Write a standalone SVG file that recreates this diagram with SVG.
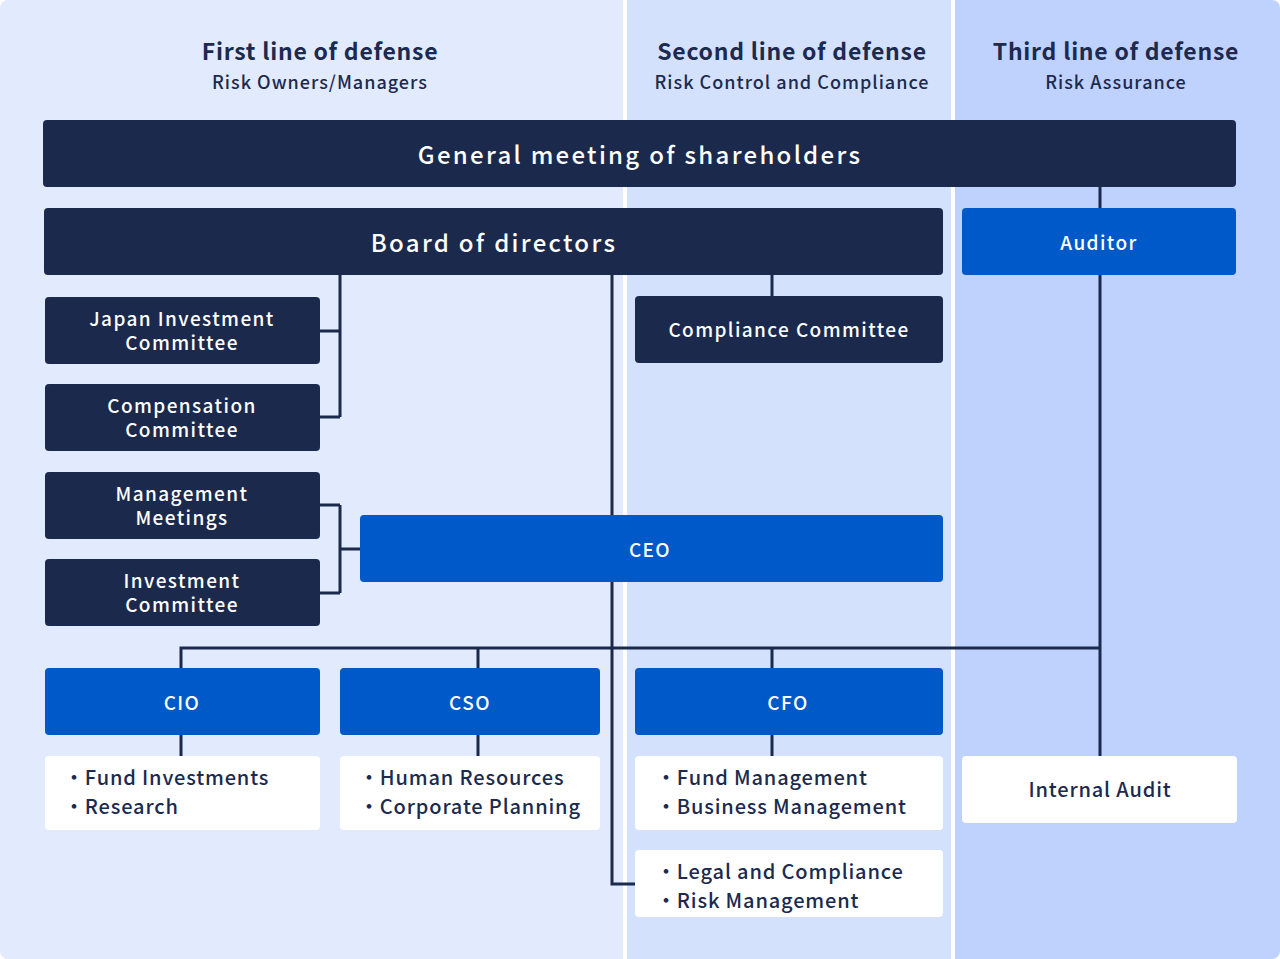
<svg xmlns="http://www.w3.org/2000/svg" width="1280" height="959" viewBox="0 0 1280 959">
<style>
text{font-family:"Noto Sans CJK JP","Noto Sans",sans-serif;}
.h1{font-size:23px;font-weight:700;fill:#1b2a4e;text-anchor:middle;letter-spacing:0.75px}
.h2{font-size:18px;font-weight:500;fill:#1b2a4e;text-anchor:middle;letter-spacing:1px}
.navy{fill:#1b2a4c}
.blue{fill:#0059c8}
.white{fill:#ffffff}
.lbl{font-size:19px;font-weight:500;fill:#ffffff;text-anchor:middle;letter-spacing:1.4px}
.big{font-size:24px;font-weight:500;fill:#ffffff;text-anchor:middle;letter-spacing:2.3px}
.item{font-size:20px;font-weight:500;fill:#1b2a4e;letter-spacing:0.85px}
.ln{stroke:#1b2a4c;stroke-width:3;fill:none}
</style>
<rect width="1280" height="959" fill="#ffffff"/>
<g id="columns">
<rect x="0" y="0" width="631" height="959" rx="8" fill="#e2eafd"/>
<rect x="627" y="0" width="324" height="959" fill="#d3e1fc"/>
<path d="M955 0H1272A8 8 0 0 1 1280 8V951A8 8 0 0 1 1272 959H955Z" fill="#bfd1fd"/>
<rect x="623" y="0" width="4" height="959" fill="#ffffff"/>
</g>
<g id="headers">
<text class="h1" x="320" y="60">First line of defense</text>
<text class="h2" x="320" y="89">Risk Owners/Managers</text>
<text class="h1" x="792" y="60">Second line of defense</text>
<text class="h2" x="792" y="89">Risk Control and Compliance</text>
<text class="h1" x="1116" y="60">Third line of defense</text>
<text class="h2" x="1116" y="89">Risk Assurance</text>
</g>
<g id="connectors">
<path class="ln" d="M340 275V417M320 331H340M320 417H340"/>
<path class="ln" d="M772 275V296"/>
<path class="ln" d="M612 275V515M612 582V884H635"/>
<path class="ln" d="M340 505V593M320 505H340M320 593H340M340 549H360"/>
<path class="ln" d="M181 668V648H1100M478 648V668M772 648V668"/>
<path class="ln" d="M1100 187V208M1100 275V756"/>
<path class="ln" d="M181 735V756M478 735V756M772 735V756"/>
</g>
<g id="general-meeting"><rect class="navy" x="43" y="120" width="1193" height="67" rx="4"/><text class="big" x="640" y="164">General meeting of shareholders</text></g>
<g id="board"><rect class="navy" x="44" y="208" width="899" height="67" rx="4"/><text class="big" x="494" y="252">Board of directors</text></g>
<g id="auditor"><rect class="blue" x="962" y="208" width="274" height="67" rx="4"/><text class="lbl" x="1099" y="250">Auditor</text></g>
<g id="japan-investment"><rect class="navy" x="45" y="297" width="275" height="67" rx="4"/><text class="lbl" x="182" y="326">Japan Investment</text><text class="lbl" x="182" y="350">Committee</text></g>
<g id="compensation"><rect class="navy" x="45" y="384" width="275" height="67" rx="4"/><text class="lbl" x="182" y="413">Compensation</text><text class="lbl" x="182" y="437">Committee</text></g>
<g id="management"><rect class="navy" x="45" y="472" width="275" height="67" rx="4"/><text class="lbl" x="182" y="501">Management</text><text class="lbl" x="182" y="525">Meetings</text></g>
<g id="investment"><rect class="navy" x="45" y="559" width="275" height="67" rx="4"/><text class="lbl" x="182" y="588">Investment</text><text class="lbl" x="182" y="612">Committee</text></g>
<g id="compliance-committee"><rect class="navy" x="635" y="296" width="308" height="67" rx="4"/><text class="lbl" x="789" y="337">Compliance Committee</text></g>
<g id="ceo"><rect class="blue" x="360" y="515" width="583" height="67" rx="4"/><text class="lbl" x="650" y="557">CEO</text></g>
<g id="cio"><rect class="blue" x="45" y="668" width="275" height="67" rx="4"/><text class="lbl" x="182" y="710">CIO</text></g>
<g id="cso"><rect class="blue" x="340" y="668" width="260" height="67" rx="4"/><text class="lbl" x="470" y="710">CSO</text></g>
<g id="cfo"><rect class="blue" x="635" y="668" width="308" height="67" rx="4"/><text class="lbl" x="788" y="710">CFO</text></g>
<g id="cio-items"><rect class="white" x="45" y="756" width="275" height="74" rx="4"/><text class="item" x="64" y="785">・Fund Investments</text><text class="item" x="64" y="814">・Research</text></g>
<g id="cso-items"><rect class="white" x="340" y="756" width="260" height="74" rx="4"/><text class="item" x="359" y="785">・Human Resources</text><text class="item" x="359" y="814">・Corporate Planning</text></g>
<g id="cfo-items"><rect class="white" x="635" y="756" width="308" height="74" rx="4"/><text class="item" x="656" y="785">・Fund Management</text><text class="item" x="656" y="814">・Business Management</text></g>
<g id="legal-items"><rect class="white" x="635" y="850" width="308" height="67" rx="4"/><text class="item" x="656" y="879">・Legal and Compliance</text><text class="item" x="656" y="908">・Risk Management</text></g>
<g id="internal-audit"><rect class="white" x="962" y="756" width="275" height="67" rx="4"/><text class="item" x="1100" y="797" text-anchor="middle">Internal Audit</text></g>
</svg>
